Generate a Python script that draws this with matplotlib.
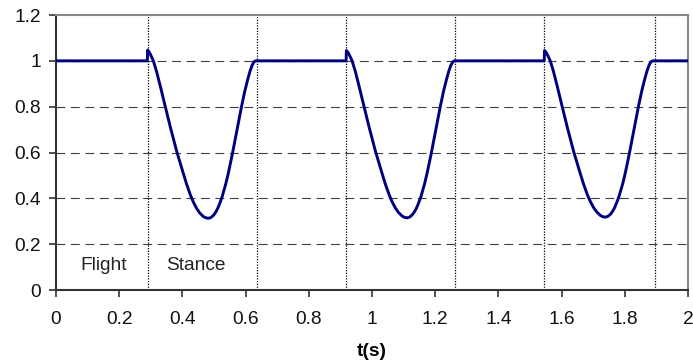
import matplotlib
matplotlib.use("Agg")
import matplotlib.pyplot as plt

plt.rcParams['font.family'] = ['Liberation Sans', 'DejaVu Sans']

# stance dips (flight phases are flat at 1)
t1 = [0.289, 0.290, 0.295, 0.301, 0.308, 0.318, 0.330, 0.345, 0.362, 0.382,
      0.400, 0.413, 0.426, 0.435, 0.445, 0.455, 0.466, 0.474, 0.482, 0.490,
      0.499, 0.506, 0.512, 0.518, 0.526, 0.538, 0.546, 0.553, 0.559, 0.573,
      0.587, 0.597, 0.606, 0.614, 0.621, 0.627, 0.632]
y1 = [1.00, 1.047, 1.038, 1.022, 1.00, 0.955, 0.89, 0.805, 0.71, 0.605,
      0.522, 0.463, 0.412, 0.383, 0.356, 0.336, 0.321, 0.315, 0.313, 0.316,
      0.327, 0.341, 0.357, 0.377, 0.408, 0.467, 0.514, 0.56, 0.60, 0.70,
      0.80, 0.865, 0.915, 0.955, 0.982, 0.996, 1.00]

t2 = [0.918, 0.919, 0.924, 0.930, 0.937, 0.947, 0.959, 0.974, 0.991, 1.011,
      1.029, 1.042, 1.055, 1.064, 1.074, 1.084, 1.095, 1.103, 1.111, 1.119,
      1.128, 1.135, 1.141, 1.147, 1.155, 1.167, 1.175, 1.182, 1.188, 1.202,
      1.216, 1.226, 1.235, 1.243, 1.250, 1.256, 1.261]
y2 = [1.00, 1.045, 1.037, 1.021, 1.00, 0.955, 0.89, 0.805, 0.71, 0.605,
      0.522, 0.463, 0.413, 0.384, 0.358, 0.338, 0.323, 0.317, 0.315, 0.318,
      0.329, 0.343, 0.358, 0.378, 0.408, 0.467, 0.514, 0.56, 0.60, 0.70,
      0.80, 0.865, 0.915, 0.955, 0.982, 0.996, 1.00]

t3 = [1.545, 1.546, 1.551, 1.557, 1.564, 1.574, 1.586, 1.601, 1.618, 1.638,
      1.656, 1.669, 1.682, 1.691, 1.701, 1.711, 1.722, 1.730, 1.738, 1.746,
      1.755, 1.762, 1.768, 1.774, 1.782, 1.794, 1.802, 1.809, 1.815, 1.829,
      1.843, 1.853, 1.862, 1.870, 1.877, 1.883, 1.888]
y3 = [1.00, 1.045, 1.037, 1.021, 1.00, 0.955, 0.89, 0.805, 0.71, 0.605,
      0.522, 0.464, 0.414, 0.386, 0.360, 0.341, 0.326, 0.320, 0.318, 0.321,
      0.331, 0.345, 0.360, 0.380, 0.410, 0.467, 0.514, 0.56, 0.60, 0.70,
      0.80, 0.865, 0.915, 0.955, 0.982, 0.996, 1.00]

t_start, t_end = 0.0, 2.0
phase_lines = [0.291, 0.636, 0.918, 1.263, 1.545, 1.896]
xticks = [0, 0.2, 0.4, 0.6, 0.8, 1, 1.2, 1.4, 1.6, 1.8, 2]
yticks = [0, 0.2, 0.4, 0.6, 0.8, 1, 1.2]

t = [t_start] + t1 + t2 + t3 + [t_end]
y = [1.0] + y1 + y2 + y3 + [1.0]

fig = plt.figure(figsize=(6.93, 3.6), dpi=100)
ax = fig.add_axes([0.0808, 0.1944, 0.912, 0.7639])

for v in yticks[1:-1]:
    ax.axhline(v, color='#404040', lw=0.8, ls=(0, (8, 5)), zorder=1)
for v in phase_lines:
    ax.axvline(v, color='black', lw=0.9, ls=(0, (1, 1.2)), zorder=1)

ax.plot(t, y, color='#000080', lw=2.1, zorder=3, solid_joinstyle='round')

ax.text(0.076, 0.105, 'Flight', fontsize=13.8, va='center', color='#222222')
ax.text(0.348, 0.105, 'Stance', fontsize=13.8, va='center', color='#222222')

ax.set_xlim(0, 2)
ax.set_ylim(0, 1.2)
ax.set_xticks(xticks)
ax.set_xticklabels([f'{v:g}' for v in xticks])
ax.set_yticks(yticks)
ax.set_yticklabels([f'{v:g}' for v in yticks])
ax.tick_params(labelsize=13.8, direction='out', length=5, width=1.2,
               colors='#333333', labelcolor='#111111', pad=6)
ax.tick_params(axis='x', pad=10)

for side in ['left', 'bottom']:
    ax.spines[side].set_color('#333333')
    ax.spines[side].set_linewidth(1.5)
for side in ['top', 'right']:
    ax.spines[side].set_color('#888888')
    ax.spines[side].set_linewidth(1.5)

ax.set_xlabel('t(s)', fontsize=13.8, fontweight='bold', labelpad=11)

fig.savefig('out.png', dpi=100)
